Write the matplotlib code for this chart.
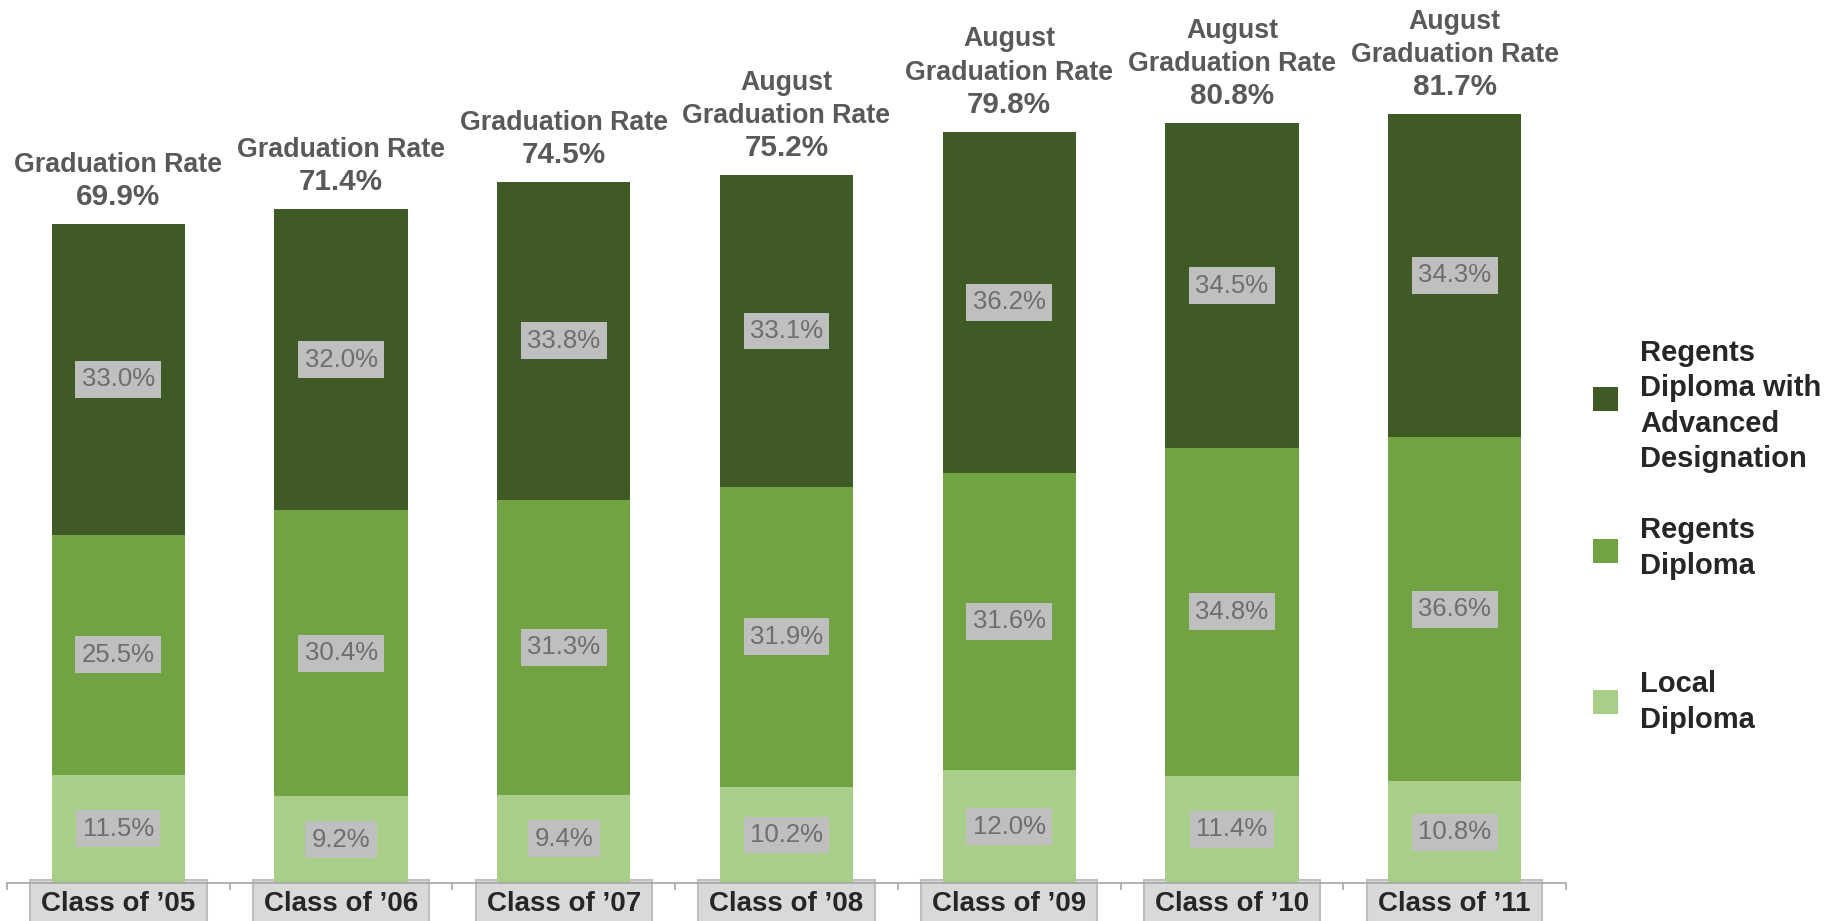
import matplotlib
matplotlib.use("Agg")
import matplotlib.pyplot as plt
from matplotlib.patches import Rectangle
import numpy as np

plt.rcParams['font.family'] = ['Liberation Sans', 'DejaVu Sans']

categories = ["Class of \u201905", "Class of \u201906", "Class of \u201907", "Class of \u201908",
              "Class of \u201909", "Class of \u201910", "Class of \u201911"]
local = [11.5, 9.2, 9.4, 10.2, 12.0, 11.4, 10.8]
regents = [25.5, 30.4, 31.3, 31.9, 31.6, 34.8, 36.6]
advanced = [33.0, 32.0, 33.8, 33.1, 36.2, 34.5, 34.3]
totals = [69.9, 71.4, 74.5, 75.2, 79.8, 80.8, 81.7]
rate_titles = ["Graduation Rate", "Graduation Rate", "Graduation Rate",
               "August\nGraduation Rate", "August\nGraduation Rate",
               "August\nGraduation Rate", "August\nGraduation Rate"]
legend_labels = ["Regents\nDiploma with\nAdvanced\nDesignation", "Regents\nDiploma", "Local\nDiploma"]

c_local = "#A9CE8A"
c_reg = "#71A343"
c_adv = "#3F5A25"

W, H = 1827, 921
fig = plt.figure(figsize=(W / 100, H / 100), dpi=100)
ax = fig.add_axes([7 / W, 38 / H, (1566 - 7) / W, 1 - 38 / H])

x = np.arange(len(categories))
bw = 0.598
ax.bar(x, local, bw, color=c_local, zorder=2)
ax.bar(x, regents, bw, bottom=local, color=c_reg, zorder=2)
bot3 = np.array(local) + np.array(regents)
ax.bar(x, advanced, bw, bottom=bot3, color=c_adv, zorder=2)

lbl_kw = dict(ha='center', va='center', fontsize=18.5, color='#6E6E6E', zorder=3,
              bbox=dict(boxstyle='square,pad=0.25', facecolor='#BFBFBF', edgecolor='none'))
for i in range(len(x)):
    ax.text(x[i], local[i] / 2, f"{local[i]:.1f}%", **lbl_kw)
    ax.text(x[i], local[i] + regents[i] / 2, f"{regents[i]:.1f}%", **lbl_kw)
    ax.text(x[i], bot3[i] + advanced[i] / 2, f"{advanced[i]:.1f}%", **lbl_kw)
    top = bot3[i] + advanced[i]
    ax.annotate(f"{totals[i]:.1f}%", (x[i], top), xytext=(0, 13.7),
                textcoords='offset points', ha='center', va='baseline', fontsize=21.3,
                fontweight='bold', color='#595959', zorder=3)
    ax.annotate(rate_titles[i], (x[i], top), xytext=(0, 13.7 + 23.8),
                textcoords='offset points', ha='center', va='baseline', fontsize=19.3,
                fontweight='bold', color='#595959', linespacing=1.37, zorder=3)

ax.set_xlim(-0.5, len(x) - 0.5)
ax.set_ylim(0, 883 / (769 / 81.7))
ax.set_yticks([])
for s in ['top', 'right', 'left']:
    ax.spines[s].set_visible(False)
ax.spines['bottom'].set_color('#A6A6A6')
ax.spines['bottom'].set_linewidth(1.2)
ax.set_xticks(x)
ax.set_xticklabels(categories, fontsize=20, fontweight='bold', color='#262626')
ax.tick_params(axis='x', which='major', length=0, pad=6)
ax.set_xticks(np.arange(-0.5, len(x), 1.0), minor=True)
ax.tick_params(axis='x', which='minor', length=5, color='#A6A6A6', width=1.2)
for t in ax.get_xticklabels():
    t.set_bbox(dict(boxstyle='square,pad=0.4', facecolor='#D9D9D9', edgecolor='#BFBFBF', linewidth=1.5))

# legend (manual, figure coordinates)
leg_colors = [c_adv, c_reg, c_local]
leg_centers = [399, 551, 702]
leg_text_centers = [406, 548, 702]
for col, lab, yc, yt in zip(leg_colors, legend_labels, leg_centers, leg_text_centers):
    fig.patches.append(Rectangle((1593 / W, 1 - (yc + 12) / H), 25 / W, 24 / H,
                                 transform=fig.transFigure, facecolor=col, edgecolor='none'))
    fig.text(1640 / W, 1 - yt / H, lab, ha='left', va='center', fontsize=21,
             fontweight='bold', color='#262626', linespacing=1.33)

fig.savefig("out.png", dpi=100)
